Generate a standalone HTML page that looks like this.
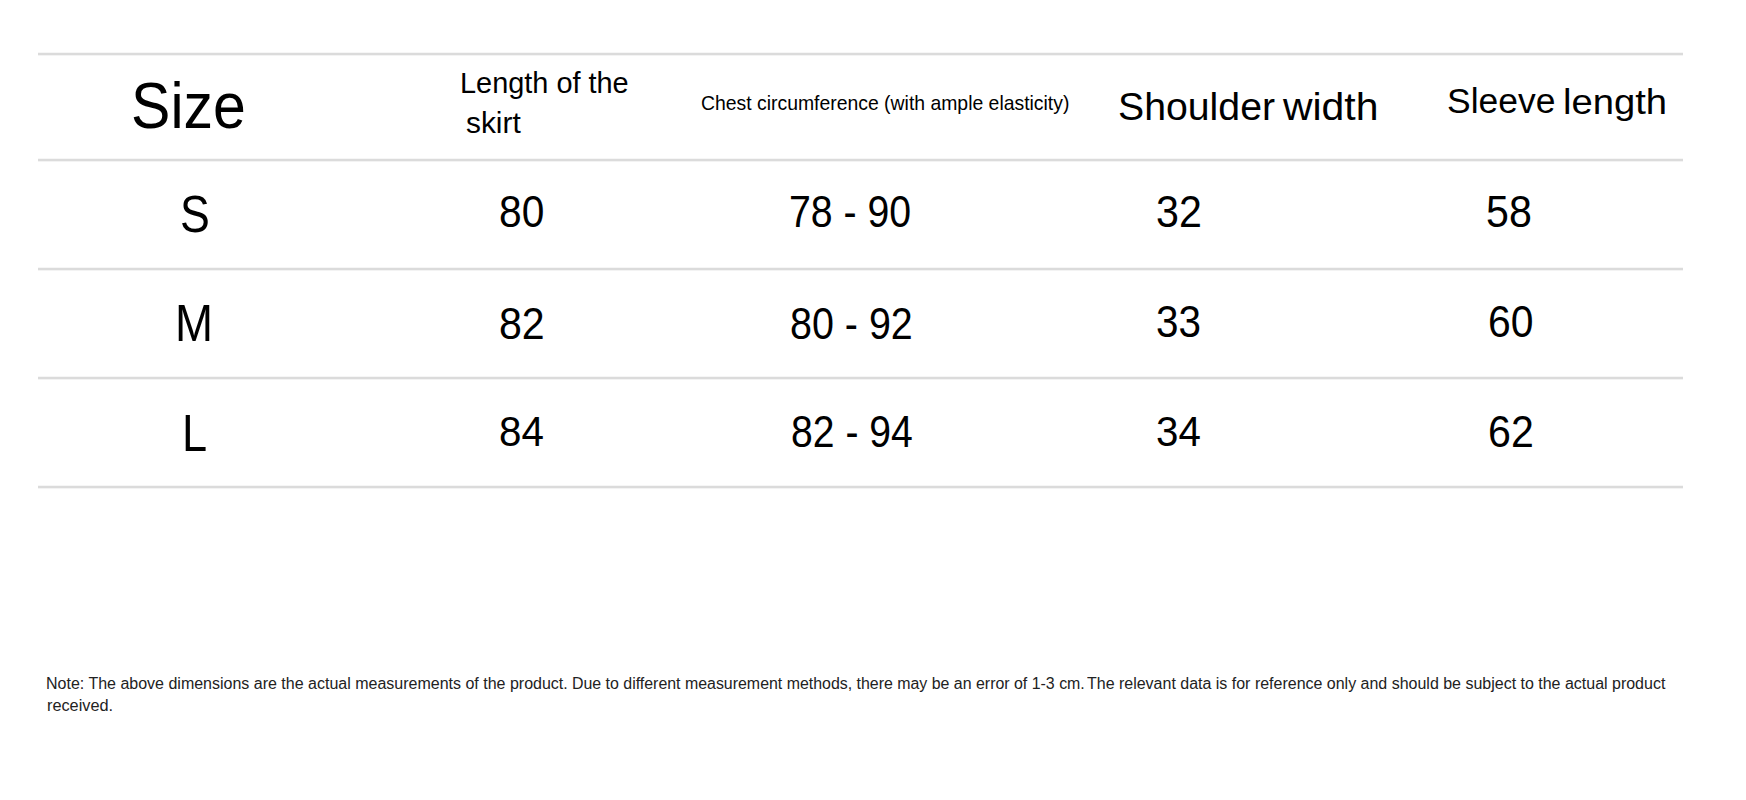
<!DOCTYPE html>
<html><head><meta charset="utf-8"><title>Size chart</title><style>
html,body{margin:0;padding:0;background:#fff;}
body{width:1746px;height:800px;position:relative;overflow:hidden;font-family:"Liberation Sans",sans-serif;color:#000;}
.t{position:absolute;white-space:nowrap;line-height:1;transform-origin:0 0;}
.ln{position:absolute;left:38px;width:1645px;height:2px;background:#dbdbdb;box-shadow:0 1px 0 #f3f3f3,0 -1px 0 #f6f6f6;}
.nt{color:#222;font-size:16px;top:676px;}
</style></head><body>
<div class="ln" style="top:53px"></div>
<div class="ln" style="top:159px"></div>
<div class="ln" style="top:268px"></div>
<div class="ln" style="top:377px"></div>
<div class="ln" style="top:486px"></div>
<div class="t" style="left:131.11px;top:73.37px;font-size:65.47px;transform:scaleX(0.9018)">Size</div>
<div class="t" style="left:460.03px;top:67.73px;font-size:29.93px;transform:scaleX(0.9656)">Length of the</div>
<div class="t" style="left:466.24px;top:108.39px;font-size:30.26px;transform:scaleX(0.9869)">skirt</div>
<div class="t" style="left:700.72px;top:93.75px;font-size:19.35px;transform:scaleX(1.0020)">Chest circumference (with ample elasticity)</div>
<div class="t" style="left:1118.06px;top:87.73px;font-size:38.78px;transform:scaleX(1.0118)">Shoulder</div>
<div class="t" style="left:1282.52px;top:87.97px;font-size:38.06px;transform:scaleX(1.0749)">width</div>
<div class="t" style="left:1446.65px;top:84.44px;font-size:34.81px;transform:scaleX(1.0185)">Sleeve</div>
<div class="t" style="left:1563.17px;top:84.46px;font-size:34.99px;transform:scaleX(1.0917)">length</div>
<div class="t" style="left:179.69px;top:188.15px;font-size:52.54px;transform:scaleX(0.8504)">S</div>
<div class="t" style="left:498.96px;top:190.12px;font-size:44.42px;transform:scaleX(0.9162)">80</div>
<div class="t" style="left:789.16px;top:190.12px;font-size:44.57px;transform:scaleX(0.8807)">78 - 90</div>
<div class="t" style="left:1156.34px;top:190.12px;font-size:44.42px;transform:scaleX(0.9276)">32</div>
<div class="t" style="left:1486.38px;top:190.12px;font-size:44.42px;transform:scaleX(0.9264)">58</div>
<div class="t" style="left:175.44px;top:297.19px;font-size:52.36px;transform:scaleX(0.8710)">M</div>
<div class="t" style="left:499.40px;top:301.60px;font-size:43.66px;transform:scaleX(0.9421)">82</div>
<div class="t" style="left:790.49px;top:301.52px;font-size:44.03px;transform:scaleX(0.8960)">80 - 92</div>
<div class="t" style="left:1156.07px;top:300.49px;font-size:43.70px;transform:scaleX(0.9253)">33</div>
<div class="t" style="left:1488.39px;top:300.49px;font-size:43.70px;transform:scaleX(0.9357)">60</div>
<div class="t" style="left:181.55px;top:406.83px;font-size:52.17px;transform:scaleX(0.8657)">L</div>
<div class="t" style="left:499.24px;top:410.19px;font-size:42.75px;transform:scaleX(0.9432)">84</div>
<div class="t" style="left:790.86px;top:409.89px;font-size:43.67px;transform:scaleX(0.8965)">82 - 94</div>
<div class="t" style="left:1156.11px;top:410.83px;font-size:42.48px;transform:scaleX(0.9484)">34</div>
<div class="t" style="left:1488.17px;top:409.92px;font-size:43.74px;transform:scaleX(0.9409)">62</div>
<div class="t nt" style="left:46.48px;top:676px;transform:scaleX(0.9999)">Note: The above dimensions are the actual measurements of the product.</div>
<div class="t nt" style="left:571.74px;top:676px;transform:scaleX(0.9947)">Due to different measurement methods, there may be an error of 1-3 cm.</div>
<div class="t nt" style="left:1087.19px;top:676px;transform:scaleX(0.9988)">The relevant data is for reference only and should be subject to the actual product</div>
<div class="t nt" style="left:46.68px;top:698px;transform:scaleX(1.0179)">received.</div>
</body></html>
